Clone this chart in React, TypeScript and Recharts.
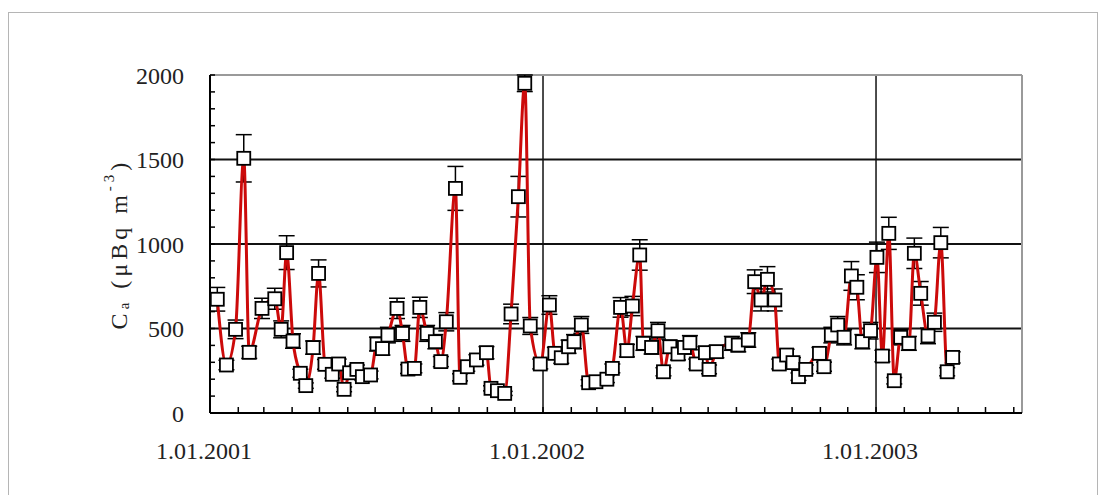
import { LineChart, Line, XAxis, YAxis, ErrorBar, ReferenceLine } from "recharts";

// days since 1.01.2001
const days = [
  8, 18, 28, 37, 43, 57, 71, 78, 84, 91,
  99, 105, 113, 119, 126, 134, 141, 147, 153, 161,
  167, 176, 183, 189, 195, 205, 211, 217, 224, 230,
  238, 247, 253, 259, 269, 274, 282, 292, 303, 308,
  315, 323, 330, 338, 345, 351, 362, 372, 378, 385,
  393, 399, 407, 415, 423, 435, 441, 450, 457, 463,
  471, 475, 484, 491, 497, 504, 513, 520, 526, 533,
  543, 547, 555, 572, 579, 590, 597, 604, 611, 619,
  624, 632, 639, 645, 653, 668, 673, 681, 688, 695,
  703, 709, 715, 724, 731, 737, 744, 750, 757, 766,
  772, 779, 787, 794, 801, 808, 814,
];

// C_a in µBq m^-3
const conc = [
  673, 284, 495, 1507, 359, 619, 676, 495, 949, 426,
  235, 162, 387, 826, 288, 229, 290, 140, 238, 258,
  215, 225, 408, 381, 461, 619, 471, 260, 264, 625,
  471, 422, 304, 540, 1329, 211, 274, 314, 357, 146,
  132, 116, 586, 1280, 1951, 515, 290, 639, 353, 327,
  392, 422, 521, 179, 185, 200, 264, 625, 369, 633,
  935, 412, 388, 487, 244, 392, 349, 388, 416, 290,
  357, 258, 363, 412, 402, 432, 777, 669, 791, 669,
  290, 343, 298, 215, 258, 353, 274, 461, 521, 448,
  811, 744, 422, 487, 921, 337, 1063, 191, 448, 412,
  945, 708, 456, 537, 1008, 244, 329,
];

const errs = [
  70, 28, 55, 140, 36, 60, 62, 50, 100, 43,
  24, 16, 39, 80, 29, 23, 29, 14, 24, 26,
  22, 23, 41, 38, 46, 60, 47, 26, 26, 60,
  47, 42, 30, 54, 130, 21, 27, 31, 36, 15,
  13, 12, 58, 120, 49, 50, 29, 55, 35, 33,
  39, 42, 50, 18, 18, 20, 26, 58, 37, 57,
  90, 41, 39, 49, 24, 39, 35, 39, 42, 29,
  36, 26, 36, 41, 40, 43, 70, 65, 75, 65,
  29, 34, 30, 22, 26, 35, 27, 46, 50, 45,
  85, 74, 42, 49, 90, 34, 95, 19, 45, 41,
  90, 70, 46, 54, 90, 24, 33,
];

const monthTicks = [
  0, 31, 59, 90, 120, 151, 181, 212, 243, 273, 304, 334,
  365, 396, 424, 455, 485, 516, 546, 577, 608, 638, 669, 699,
  730, 761, 789, 820, 850, 881,
];
const yearTicks = [0, 365, 730];
const yearLabels = ["1.01.2001", "1.01.2002", "1.01.2003"];

const yTicks = [
  0, 100, 200, 300, 400, 500, 600, 700, 800, 900, 1000,
  1100, 1200, 1300, 1400, 1500, 1600, 1700, 1800, 1900, 2000,
];
const yLabelTicks = [0, 500, 1000, 1500, 2000];
const gridY = [500, 1000, 1500];

const data = days.map((d, i) => ({ d, c: conc[i], err: errs[i] }));

const serif = "'Liberation Serif', 'Times New Roman', serif";

function Square(props: any) {
  const { cx, cy, index } = props;
  if (cx == null || cy == null) return null;
  return (
    <rect
      key={`sq-${index}`}
      x={cx - 6.5}
      y={cy - 6.5}
      width={13}
      height={13}
      fill="#fff"
      stroke="#000"
      strokeWidth={1.8}
    />
  );
}

function YTitle(props: any) {
  const { viewBox } = props;
  const cx = viewBox.x - 31;
  const cy = viewBox.y + viewBox.height / 2;
  return (
    <text
      x={cx}
      y={cy}
      transform={`rotate(-90 ${cx} ${cy})`}
      textAnchor="middle"
      dominantBaseline="central"
      fontFamily={serif}
      fontSize={24}
      fill="#222"
      letterSpacing={4}
    >
      C<tspan fontSize={15} dy={5}>a</tspan>
      <tspan dy={-5}> (μBq m</tspan>
      <tspan fontSize={15} dy={-10}>-3</tspan>
      <tspan dy={10}>)</tspan>
    </text>
  );
}

export default function App() {
  return (
    <div style={{ position: "fixed", left: 0, top: 0, width: 1105, height: 495, overflow: "hidden", background: "#fff" }}>
      <div
        style={{
          position: "absolute",
          left: 8,
          top: 12,
          width: 1088,
          height: 500,
          border: "1px solid #b5b5b5",
        }}
      />
      <div style={{ position: "absolute", left: 0, top: 0 }}>
        <LineChart
          width={1105}
          height={495}
          data={data}
          margin={{ top: 75, right: 83, bottom: 22, left: 150 }}
        >
          <XAxis
            type="number"
            dataKey="d"
            domain={[0, 890]}
            ticks={monthTicks}
            interval={0}
            height={60}
            tickSize={-6}
            tickMargin={35}
            tickFormatter={(v: number) => {
              const i = yearTicks.indexOf(v);
              return i >= 0 ? yearLabels[i] : "";
            }}
            tick={{ fontSize: 24, fontFamily: serif, fill: "#222", dx: -6 }}
            axisLine={{ stroke: "#000", strokeWidth: 2 }}
            tickLine={{ stroke: "#000", strokeWidth: 1.5 }}
          />
          <YAxis
            type="number"
            domain={[0, 2000]}
            ticks={yTicks}
            interval={0}
            width={60}
            tickSize={-5}
            tickMargin={31}
            tickFormatter={(v: number) => (yLabelTicks.includes(v) ? String(v) : "")}
            tick={{ fontSize: 24, fontFamily: serif, fill: "#222" }}
            axisLine={{ stroke: "#000", strokeWidth: 2 }}
            tickLine={{ stroke: "#000", strokeWidth: 1.5 }}
            label={<YTitle />}
          />
          {gridY.map((v) => (
            <ReferenceLine key={`gy-${v}`} y={v} stroke="#111" strokeWidth={2} />
          ))}
          {yearTicks.slice(1).map((v) => (
            <ReferenceLine key={`gx-${v}`} x={v} stroke="#111" strokeWidth={1.5} />
          ))}
          <ReferenceLine y={2000} stroke="#9a9a9a" strokeWidth={2} />
          <ReferenceLine x={890} stroke="#9a9a9a" strokeWidth={2} />
          <Line
            type="monotone"
            dataKey="c"
            stroke="#cc0a0a"
            strokeWidth={3}
            dot={Square}
            activeDot={false}
            isAnimationActive={false}
          >
            <ErrorBar dataKey="err" width={8} stroke="#000" strokeWidth={1.5} direction="y" />
          </Line>
        </LineChart>
      </div>
    </div>
  );
}
